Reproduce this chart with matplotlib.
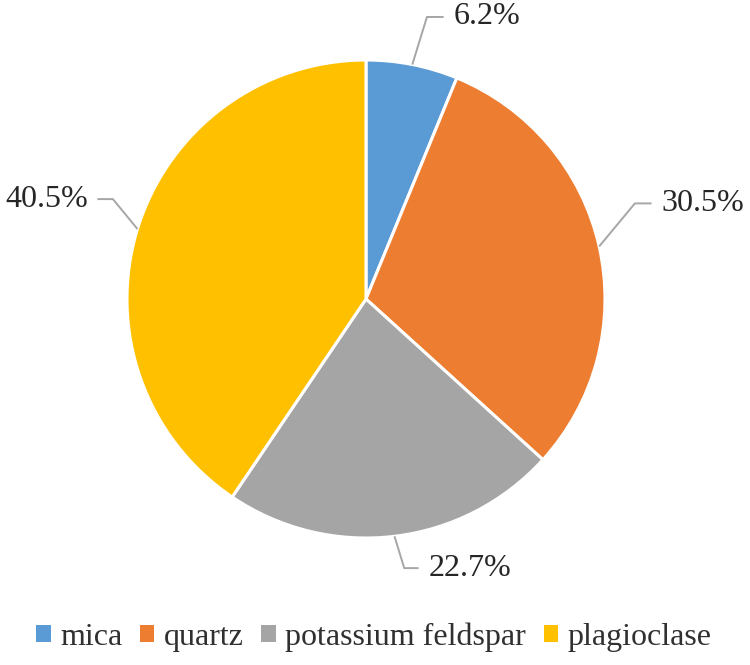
import numpy as np
import matplotlib
matplotlib.use("Agg")
from matplotlib import pyplot as plt
import matplotlib.patches as patches

plt.rcParams['font.family'] = ['Liberation Serif', 'DejaVu Serif']

# data
minerals = ['mica', 'quartz', 'potassium feldspar', 'plagioclase']
shares = [6.2, 30.5, 22.7, 40.5]
colors = ['#5B9BD5', '#ED7D31', '#A5A5A5', '#FFC000']

# label layout: elbow point (data coords) and horizontal run direction
elbows = [(0.255, 1.18), (1.125, 0.40), (0.16, -1.126), (-1.059, 0.418)]
runs = [0.07, 0.07, 0.06, -0.065]

W, H = 750, 665
cx, cy, R = 366, 299, 239

fig = plt.figure(figsize=(W / 100, H / 100), dpi=100)
ax = fig.add_axes([(cx - R) / W, (H - cy - R) / H, 2 * R / W, 2 * R / H])

wedges, _ = ax.pie(shares, colors=colors, startangle=90, counterclock=False,
                   radius=1, wedgeprops=dict(edgecolor='white', linewidth=2.2))
ax.set_xlim(-1, 1)
ax.set_ylim(-1, 1)
ax.set_aspect('equal')
ax.axis('off')

for w, val, (ex, ey), run in zip(wedges, shares, elbows, runs):
    ang = np.deg2rad((w.theta1 + w.theta2) / 2)
    sx, sy = np.cos(ang), np.sin(ang)
    ax.plot([sx, ex, ex + run], [sy, ey, ey], color='#A6A6A6', lw=1.4,
            clip_on=False, solid_capstyle='butt')
    ha = 'left' if run > 0 else 'right'
    ax.text(ex + run + (0.04 if run > 0 else -0.04), ey, '%.1f%%' % val,
            ha=ha, va='center', fontsize=23, color='#262626', clip_on=False)

handles = [patches.Patch(facecolor=c, edgecolor='none') for c in colors]
fig.legend(handles, minerals, loc='center', bbox_to_anchor=(374 / W, 1 - 637 / H),
           ncol=4, frameon=False, fontsize=23, handlelength=0.45, handleheight=0.45,
           handletextpad=0.3, columnspacing=0.55, labelcolor='#303030')

fig.savefig('out.png', dpi=100)
